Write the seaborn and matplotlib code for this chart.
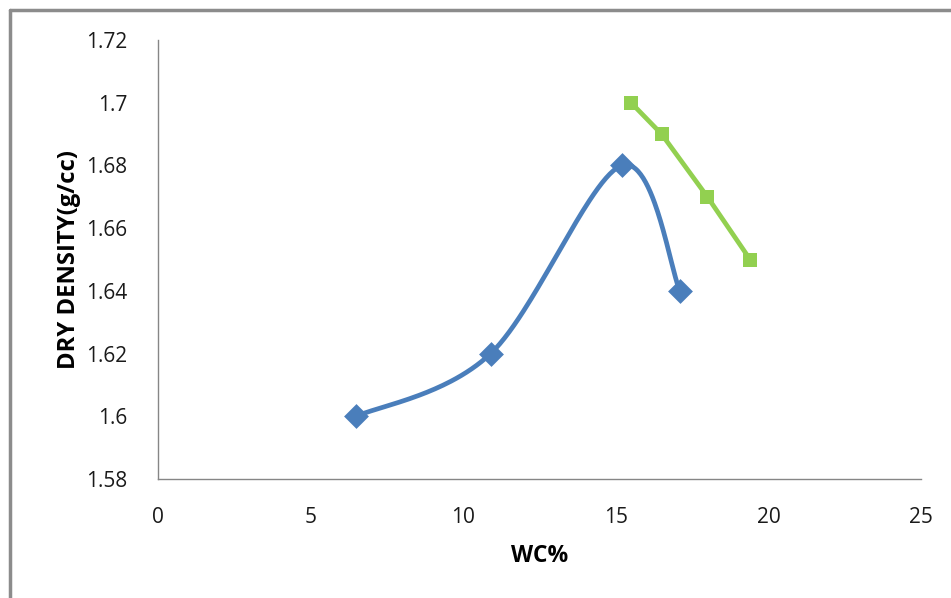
import numpy as np
import pandas as pd
import matplotlib
matplotlib.use("Agg")
import matplotlib.pyplot as plt
from matplotlib.lines import Line2D
import seaborn as sns

# Compaction test results: water content (%) vs dry density (g/cc)
wc_a = [6.5, 10.9, 15.2, 17.1]
dd_a = [1.60, 1.62, 1.68, 1.64]

wc_b = [15.5, 16.5, 18.0, 19.4]
dd_b = [1.70, 1.69, 1.67, 1.65]

x_ticks = [0, 5, 10, 15, 20, 25]
y_ticks = [1.58, 1.60, 1.62, 1.64, 1.66, 1.68, 1.70, 1.72]
y_tick_labels = ["1.58", "1.6", "1.62", "1.64", "1.66", "1.68", "1.7", "1.72"]

BLUE = "#4A7EBB"
GREEN = "#92D050"
AXIS_GREY = "#868686"

sns.set_theme(style="white")
plt.rcParams["font.family"] = ["Open Sans", "DejaVu Sans"]


def smooth_curve(xs, ys, n=60):
    """Cubic Bezier spline through the points (Catmull-Rom style tangents)."""
    p = np.column_stack([xs, ys]).astype(float)
    ext = np.vstack([p[0], p, p[-1]])
    out = []
    for i in range(len(p) - 1):
        p0, p1, p2, p3 = ext[i], ext[i + 1], ext[i + 2], ext[i + 3]
        c1 = p1 + (p2 - p0) / 6.0
        c2 = p2 - (p3 - p1) / 6.0
        t = np.linspace(0, 1, n)[:, None]
        seg = ((1 - t) ** 3) * p1 + 3 * ((1 - t) ** 2) * t * c1 \
            + 3 * (1 - t) * t ** 2 * c2 + t ** 3 * p2
        out.append(seg if i == 0 else seg[1:])
    pts = np.vstack(out)
    return pts[:, 0], pts[:, 1]


fig = plt.figure(figsize=(9.51, 5.98), dpi=100)
ax = fig.add_axes([158 / 951, 1 - 479 / 598, (921 - 158) / 951, (479 - 40) / 598])

# Series A: smoothed line with diamond markers
sx, sy = smooth_curve(wc_a, dd_a)
curve = pd.DataFrame({"wc": sx, "dd": sy})
sns.lineplot(data=curve, x="wc", y="dd", ax=ax, color=BLUE, linewidth=3.4,
             sort=False, estimator=None)
df_a = pd.DataFrame({"wc": wc_a, "dd": dd_a})
sns.scatterplot(data=df_a, x="wc", y="dd", ax=ax, marker="D", s=160,
                color=BLUE, edgecolor=BLUE, linewidth=0, zorder=3)

# Series B: straight segments with square markers
df_b = pd.DataFrame({"wc": wc_b, "dd": dd_b})
sns.lineplot(data=df_b, x="wc", y="dd", ax=ax, color=GREEN, linewidth=3.4,
             marker="s", markersize=10.5, markeredgewidth=0, sort=False,
             estimator=None)

ax.set_xlim(0, 25)
ax.set_ylim(1.58, 1.72)
ax.set_xticks(x_ticks)
ax.set_xticklabels([str(v) for v in x_ticks])
ax.set_yticks(y_ticks)
ax.set_yticklabels(y_tick_labels)

for side in ("top", "right"):
    ax.spines[side].set_visible(False)
for side in ("left", "bottom"):
    ax.spines[side].set_color(AXIS_GREY)
    ax.spines[side].set_linewidth(1.0)

ax.tick_params(axis="both", which="major", direction="out", length=8,
               width=1.0, color=AXIS_GREY, labelsize=15, labelcolor="#1a1a1a")
ax.tick_params(axis="y", pad=14)
ax.tick_params(axis="x", pad=12)
ax.grid(False)

ax.set_xlabel("WC%", fontsize=16.5, fontweight="bold", color="black", labelpad=12)
ax.set_ylabel("DRY DENSITY(g/cc)", fontsize=17.2, fontweight="bold",
              color="black", labelpad=3.5)

# Chart-area border (top and left edges visible)
fig.add_artist(Line2D([10 / 951, 10 / 951], [0, 1 - 10 / 598],
                      transform=fig.transFigure, color="#8c8c8c", linewidth=2.5))
fig.add_artist(Line2D([10 / 951, 1], [1 - 10 / 598, 1 - 10 / 598],
                      transform=fig.transFigure, color="#8c8c8c", linewidth=2.5))

fig.savefig("out.png", dpi=100, facecolor="white")
